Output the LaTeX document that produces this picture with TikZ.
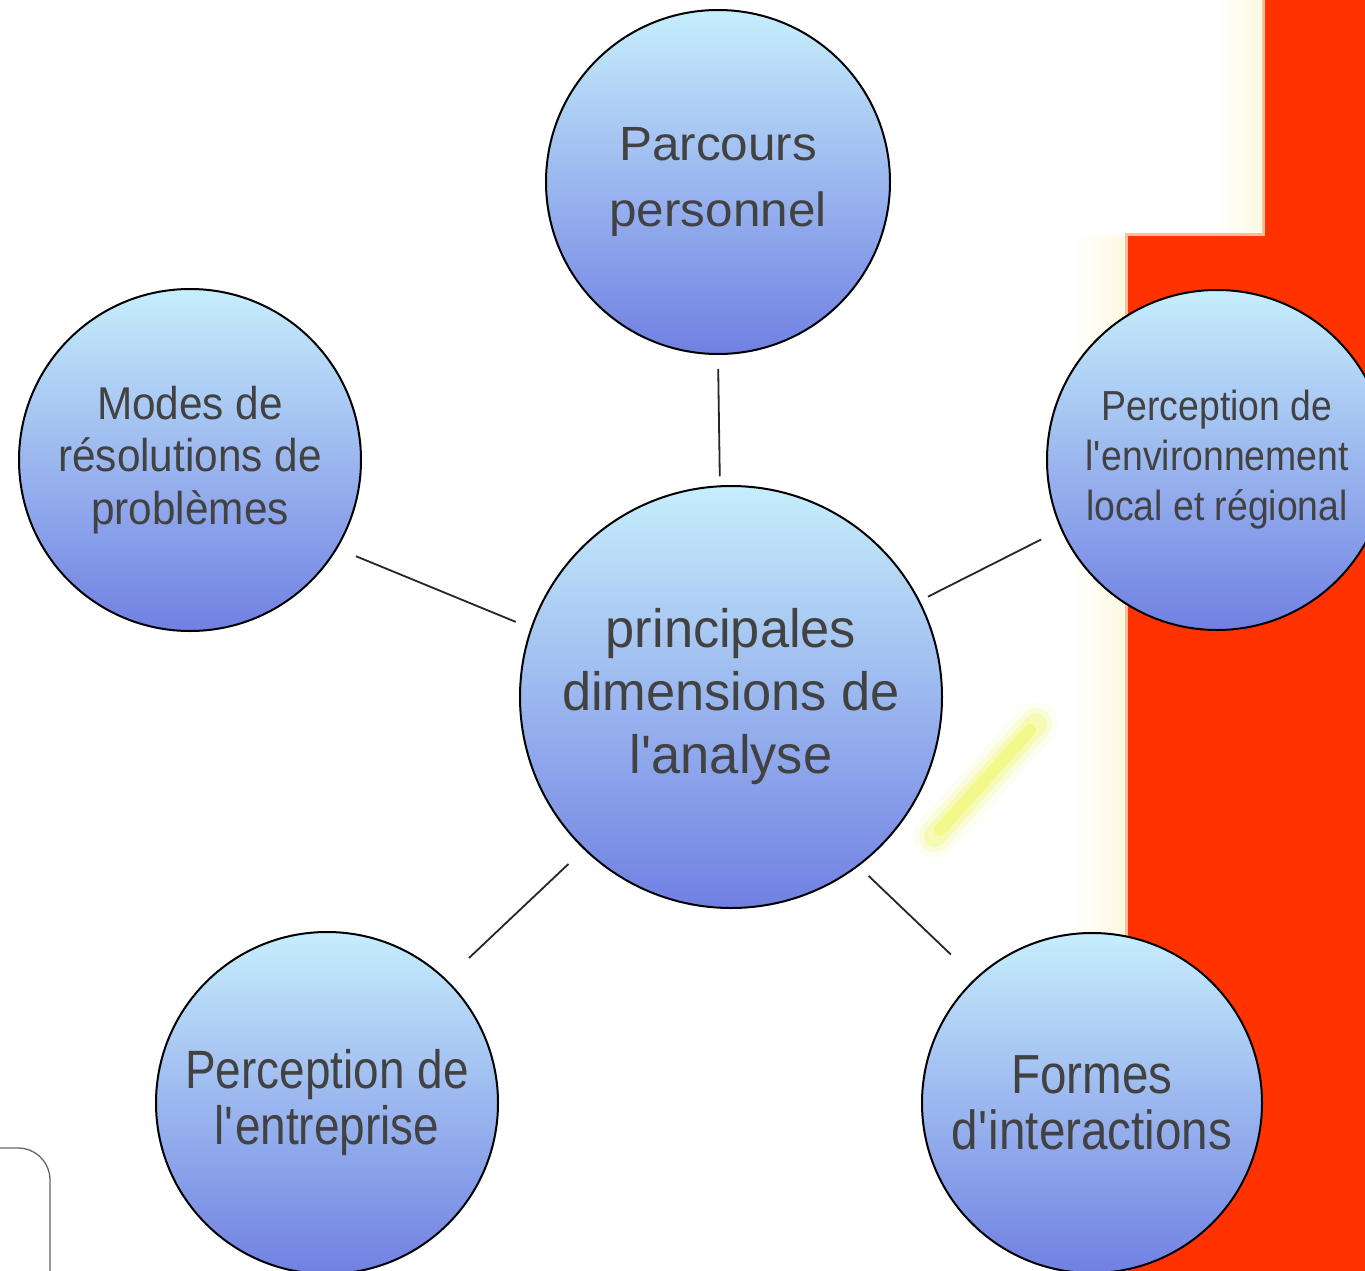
\documentclass[tikz,border=0pt]{standalone}
\usepackage{fontspec}
\setmainfont{Liberation Sans}
\newcommand{\lblfont}[3]{\addfontfeature{FakeStretch=#3}\fontsize{#1}{#2}\selectfont}
\definecolor{circtop}{RGB}{198,238,252}
\definecolor{circbot}{RGB}{112,128,226}
\definecolor{txtgris}{RGB}{66,66,66}
\definecolor{rojofondo}{RGB}{255,50,0}
\definecolor{crema}{RGB}{255,249,226}
\definecolor{bordenaranja}{RGB}{255,190,150}
\definecolor{amarillo}{RGB}{236,245,40}
\begin{document}
\begin{tikzpicture}[x=1pt,y=-1pt,
    dimension/.style={circle, draw=black, line width=2pt, inner sep=0pt,
        top color=circtop, bottom color=circbot, text=txtgris, align=center},
    enlace/.style={line width=1.8pt, draw=black!85}]

    % Fondo
    \fill[white] (0,0) rectangle (1365,1271);
    \useasboundingbox (0,0) rectangle (1365,1271);

    % Franjas crema junto al rojo
    \shade[left color=white, right color=crema] (1070,236) rectangle (1124,1271);
    \shade[left color=white, right color=crema] (1215,0) rectangle (1261,232);

    % Borde difuso y zona roja
    \draw[line width=6pt, bordenaranja] (1128,1280) -- (1128,236) -- (1265,236) -- (1265,-10);
    \fill[rojofondo] (1265,-10) -- (1375,-10) -- (1375,1280) -- (1128,1280)
        -- (1128,236) -- (1265,236) -- cycle;

    % Trazo amarillo
    \draw[amarillo, line cap=round, line width=44pt, opacity=0.06] (935,836) -- (1036,724);
    \draw[amarillo, line cap=round, line width=32pt, opacity=0.12] (935,836) -- (1036,724);
    \draw[amarillo, line cap=round, line width=22pt, opacity=0.2] (935,836) -- (1036,724);
    \draw[amarillo, line cap=round, line width=12pt, opacity=0.3] (940,830) -- (1030,730);

    % Esquina redondeada abajo a la izquierda
    \draw[gray!80!black, line width=1.3pt, rounded corners=32pt] (-5,1148) -- (50,1148) -- (50,1285);

    % Circulos
    \node[dimension, minimum size=422pt, font={\lblfont{54}{63}{0.97}}] (centro) at (731,697)
        {principales\\dimensions de\\l\textquotesingle analyse};
    \node[dimension, minimum size=344pt, font={\lblfont{48}{66}{1.03}}] (parcours) at (718,182)
        {Parcours\\personnel};
    \node[dimension, minimum size=342pt, font={\lblfont{46}{52.5}{0.92}}] (modes) at (190,460)
        {Modes de\\résolutions de\\problèmes};
    \node[dimension, minimum size=340pt, font={\lblfont{42}{50}{0.89}}] (environnement) at (1217,460)
        {Perception de\\l\textquotesingle environnement\\local et régional};
    \node[dimension, minimum size=342pt, font={\lblfont{54}{56}{0.85}}] (entreprise) at (327,1103)
        {Perception de\\l\textquotesingle entreprise};
    \node[dimension, minimum size=340pt, font={\lblfont{55}{56}{0.865}}] (interactions) at (1092,1103)
        {Formes\\d\textquotesingle interactions};

    % Enlaces
    \draw[enlace, shorten <=14pt, shorten >=9pt] (parcours.-90) -- (centro.93);
    \draw[enlace, shorten <=20pt, shorten >=16pt] (modes.-31.5) -- (centro.161);
    \draw[enlace, shorten <=9pt, shorten >=22pt] (centro.27) -- (environnement.-156);
    \draw[enlace, shorten <=31pt, shorten >=21pt] (entreprise.46) -- (centro.-134);
    \draw[enlace, shorten <=14pt, shorten >=34pt] (centro.-53) -- (interactions.133);
\end{tikzpicture}
\end{document}
